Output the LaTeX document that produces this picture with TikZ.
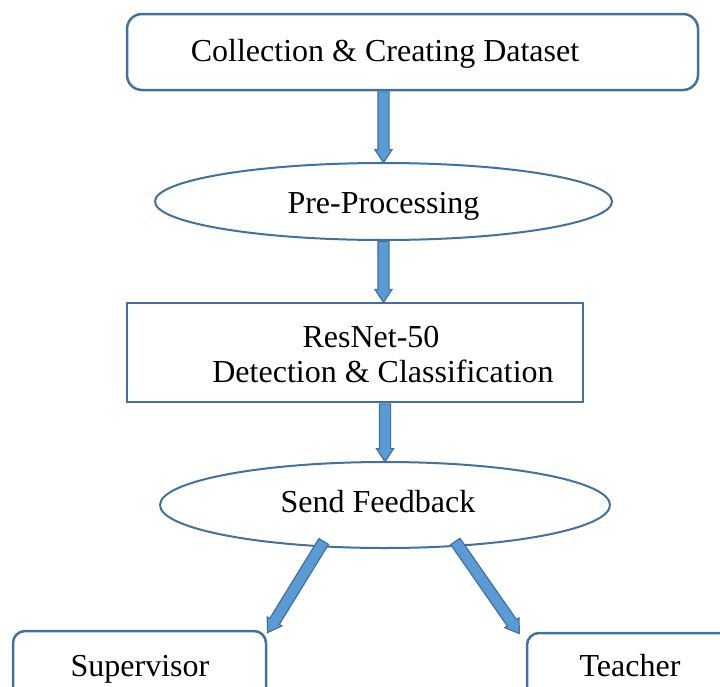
\documentclass[tikz,border=0pt]{standalone}
\usepackage{fontspec}
\setmainfont{Liberation Serif}
\usetikzlibrary{shapes.geometric, shapes.arrows, calc}
\definecolor{boxedge}{HTML}{41719C}
\definecolor{arrowfill}{HTML}{5B9BD5}
\tikzset{
roundbox/.style = {draw=boxedge, line width=2.5pt, rounded corners=15pt, inner sep=0pt},
squarebox/.style = {draw=boxedge, line width=2.5pt, inner sep=0pt},
ovalbox/.style = {ellipse, draw=boxedge, line width=2pt, inner sep=0pt},
lbl/.style = {anchor=base, inner sep=0pt, font=\fontsize{32}{35}\selectfont},
blockarrow/.style = {single arrow, draw=boxedge, fill=arrowfill, line width=1.2pt,
                     inner xsep=0pt, inner ysep=5pt, single arrow head extend=3pt,
                     single arrow tip angle=67, anchor=tail}
}
\newcommand{\flowarrow}[2]{\path let \p1=($(#2)-(#1)$), \n1={veclen(\x1,\y1)}, \n2={atan2(\y1,\x1)} in
	node[blockarrow, minimum height=\n1, rotate=\n2] at (#1) {};}

\begin{document}
\begin{tikzpicture}[x=1pt, y=-1pt]
		\useasboundingbox (0,0) rectangle (720,686);
		\clip (0,0) rectangle (720,686);
		% boxes
		\node [roundbox, minimum width=571pt, minimum height=76pt] (collect) at (412.5, 52) {};
		\node [ovalbox, minimum width=457pt, minimum height=77pt] (prep) at (383.5, 201.5) {};
		\node [squarebox, minimum width=456pt, minimum height=99pt] (resnet) at (355, 352.5) {};
		\node [ovalbox, minimum width=450pt, minimum height=86pt] (feedback) at (385, 505) {};
		\node [roundbox, rounded corners=12pt, minimum width=253pt, minimum height=90pt] (supervisor) at (139.5, 676) {};
		\node [roundbox, rounded corners=12pt, minimum width=253pt, minimum height=90pt] (teacher) at (653.5, 678) {};
		% texts
		\node [lbl] (collectlbl) at (385, 61) {Collection \& Creating Dataset};
		\node [lbl] (preplbl) at (383.5, 213) {Pre-Processing};
		\node [lbl] (resnetlbl) at (371, 347) {ResNet-50};
		\node [lbl] (detectlbl) at (383, 382) {Detection \& Classification};
		\node [lbl] (feedbacklbl) at (378, 512) {Send Feedback};
		\node [lbl] (supervisorlbl) at (140, 676) {Supervisor};
		\node [lbl] (teacherlbl) at (630, 676) {Teacher};
		% arrows
		\coordinate (leftfrom) at (324, 541);
		\coordinate (leftto) at (268, 632);
		\coordinate (rightfrom) at (455, 541);
		\coordinate (rightto) at (519, 633);
		\flowarrow{prep.north |- collect.south}{prep.north}
		\flowarrow{prep.south}{prep.south |- resnet.north}
		\flowarrow{feedback.north |- resnet.south}{feedback.north}
		\flowarrow{leftfrom}{leftto}
		\flowarrow{rightfrom}{rightto}
	\end{tikzpicture}
\end{document}
